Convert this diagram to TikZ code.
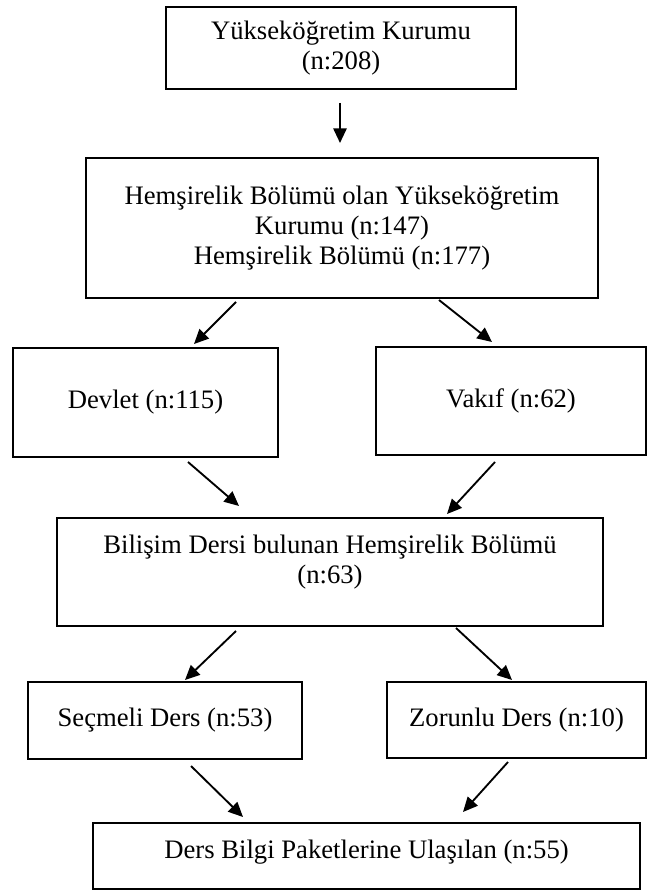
\documentclass[tikz,border=0pt]{standalone}
\usepackage{fontspec}
\setmainfont{Liberation Serif}
\usetikzlibrary{arrows.meta}

\begin{document}
\begin{tikzpicture}[x=0.75pt, y=-0.75pt,
  box/.style={draw, line width=1.5pt, align=center, inner sep=0pt,
              font=\fontsize{20}{22.5}\selectfont},
  arr/.style={-{Triangle[length=11pt,width=10pt]}, line width=1.4pt}
]
  \useasboundingbox (0,0) rectangle (649,891);

  % boxes
  \node[box, minimum width=262.5pt, minimum height=61.5pt] (kurum) at (341,48)
       {Yükseköğretim Kurumu\\(n:208)};
  \node[box, minimum width=384pt, minimum height=105pt] (hem) at (342,228)
       {Hemşirelik Bölümü olan Yükseköğretim\\Kurumu (n:147)\\Hemşirelik Bölümü (n:177)};
  \node[box, minimum width=198.75pt, minimum height=81.75pt] (devlet) at (145.5,402.5)
       {Devlet (n:115)};
  \node[box, minimum width=202.5pt, minimum height=81pt] (vakif) at (511,401)
       {Vakıf (n:62)};
  \node[box, minimum width=409.5pt, minimum height=81pt] (bilisim) at (330,572)
       {\raisebox{7.5pt}[\height][\depth]{\begin{tabular}{@{}c@{}}Bilişim Dersi bulunan Hemşirelik Bölümü\\(n:63)\end{tabular}}};
  \node[box, minimum width=205.5pt, minimum height=57.75pt] (secmeli) at (165,720.5)
       {Seçmeli Ders (n:53)};
  \node[box, minimum width=194.25pt, minimum height=57pt] (zorunlu) at (516.5,720)
       {Zorunlu Ders (n:10)};
  \node[box, minimum width=410.25pt, minimum height=49.5pt] (paket) at (366.5,856)
       {\raisebox{3pt}[\height][\depth]{Ders Bilgi Paketlerine Ulaşılan (n:55)}};

  % arrow ends
  \coordinate (kurumOut)    at (340,103);
  \coordinate (hemIn)       at (340,143);
  \coordinate (hemOutL)     at (236,302);
  \coordinate (devletIn)    at (194,344);
  \coordinate (hemOutR)     at (439,300);
  \coordinate (vakifIn)     at (492,342);
  \coordinate (devletOut)   at (188,462);
  \coordinate (bilisimInL)  at (239,506);
  \coordinate (vakifOut)    at (495,462);
  \coordinate (bilisimInR)  at (447,514);
  \coordinate (bilisimOutL) at (236,631);
  \coordinate (secmeliIn)   at (185,680);
  \coordinate (bilisimOutR) at (456,628);
  \coordinate (zorunluIn)   at (512,680);
  \coordinate (secmeliOut)  at (191,766);
  \coordinate (paketInL)    at (243,817);
  \coordinate (zorunluOut)  at (508,762);
  \coordinate (paketInR)    at (463,812);

  \draw[arr] (kurumOut)    -- (hemIn);
  \draw[arr] (hemOutL)     -- (devletIn);
  \draw[arr] (hemOutR)     -- (vakifIn);
  \draw[arr] (devletOut)   -- (bilisimInL);
  \draw[arr] (vakifOut)    -- (bilisimInR);
  \draw[arr] (bilisimOutL) -- (secmeliIn);
  \draw[arr] (bilisimOutR) -- (zorunluIn);
  \draw[arr] (secmeliOut)  -- (paketInL);
  \draw[arr] (zorunluOut)  -- (paketInR);
\end{tikzpicture}
\end{document}
